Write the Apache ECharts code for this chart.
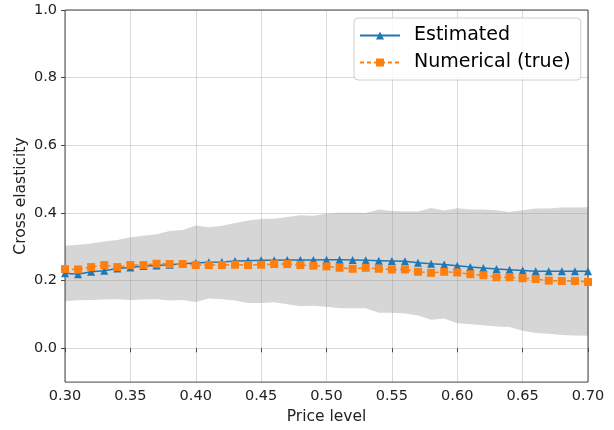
<!DOCTYPE html>
<html>
<head>
<meta charset="utf-8">
<script src="https://cdn.jsdelivr.net/npm/echarts@6/dist/echarts.min.js"></script>
<style>html,body{margin:0;padding:0;background:#fff}#c{width:614px;height:430px}</style>
</head>
<body>
<div id="c"></div>
<script>
var priceLevels = [0.30,0.31,0.32,0.33,0.34,0.35,0.36,0.37,0.38,0.39,0.40,0.41,0.42,0.43,0.44,0.45,0.46,0.47,0.48,0.49,0.50,0.51,0.52,0.53,0.54,0.55,0.56,0.57,0.58,0.59,0.60,0.61,0.62,0.63,0.64,0.65,0.66,0.67,0.68,0.69,0.70];
var estimated = [0.222,0.219,0.226,0.229,0.236,0.239,0.243,0.245,0.247,0.250,0.252,0.254,0.255,0.258,0.259,0.260,0.260,0.261,0.261,0.261,0.262,0.262,0.261,0.260,0.259,0.258,0.257,0.253,0.250,0.248,0.244,0.240,0.237,0.234,0.232,0.230,0.228,0.228,0.228,0.228,0.228];
var numerical = [0.234,0.233,0.240,0.246,0.240,0.246,0.246,0.250,0.249,0.249,0.246,0.246,0.246,0.247,0.246,0.247,0.249,0.249,0.246,0.244,0.242,0.238,0.235,0.238,0.235,0.233,0.233,0.226,0.223,0.226,0.224,0.219,0.216,0.210,0.210,0.207,0.205,0.200,0.199,0.199,0.196];
var bandUpper = [0.303,0.306,0.310,0.316,0.320,0.328,0.333,0.337,0.347,0.350,0.363,0.358,0.362,0.370,0.378,0.382,0.383,0.388,0.393,0.392,0.398,0.401,0.401,0.400,0.410,0.406,0.404,0.404,0.415,0.407,0.414,0.410,0.410,0.408,0.403,0.408,0.413,0.413,0.416,0.416,0.417];
var bandLower = [0.139,0.142,0.143,0.144,0.145,0.143,0.144,0.145,0.141,0.143,0.137,0.147,0.145,0.141,0.134,0.134,0.136,0.130,0.124,0.126,0.123,0.118,0.118,0.118,0.105,0.105,0.103,0.097,0.084,0.088,0.074,0.071,0.068,0.064,0.063,0.052,0.045,0.043,0.039,0.038,0.037];
var xTicks = [0.30,0.35,0.40,0.45,0.50,0.55,0.60,0.65,0.70];
var yTicks = [0.0,0.2,0.4,0.6,0.8,1.0];

function pairs(ys){ return priceLevels.map(function(x,i){ return [x, ys[i]]; }); }
var bandData = priceLevels.map(function(x,i){ return [x, bandLower[i], bandUpper[i]]; });

var font = 'DejaVu Sans';
var chart = echarts.init(document.getElementById('c'));
chart.setOption({
  animation: false,
  backgroundColor: '#fff',
  grid: {left: 65, right: 26, top: 10, bottom: 46, show: true, borderColor: '#444', borderWidth: 1, backgroundColor: 'transparent', z: 4},
  legend: {
    data: ['Estimated', 'Numerical (true)'],
    orient: 'vertical', left: 354, top: 18,
    backgroundColor: 'rgba(255,255,255,0.85)', borderColor: '#d0d0d0', borderWidth: 1, borderRadius: 4,
    padding: [8, 10, 8, 5], itemGap: 8, itemWidth: 40, itemHeight: 10,
    textStyle: {fontFamily: font, fontSize: 19, color: '#000', padding: [0, 0, 0, 9]}
  },
  xAxis: {
    type: 'value', min: 0.3, max: 0.7, z: 3,
    name: 'Price level', nameLocation: 'middle', nameGap: 26,
    nameTextStyle: {fontFamily: font, fontSize: 15.5, color: '#222'},
    axisLine: {show: false},
    axisTick: {show: true, length: 4, lineStyle: {color: '#444'}, customValues: xTicks},
    axisLabel: {fontFamily: font, fontSize: 14.5, color: '#222', margin: 7, customValues: xTicks,
      formatter: function(v){ return v.toFixed(2); }},
    splitLine: {show: true, lineStyle: {color: 'rgba(150,150,150,0.35)', width: 1}}
  },
  yAxis: {
    type: 'value', min: -0.1, max: 1.0, z: 3,
    name: 'Cross elasticity', nameLocation: 'middle', nameGap: 36, nameRotate: 90, nameMoveOverlap: false,
    nameTextStyle: {fontFamily: font, fontSize: 15.5, color: '#222'},
    axisLine: {show: false},
    axisTick: {show: true, length: 4, lineStyle: {color: '#444'}, customValues: yTicks},
    axisLabel: {fontFamily: font, fontSize: 14.5, color: '#222', margin: 8, customValues: yTicks,
      formatter: function(v){ return v.toFixed(1); }},
    splitLine: {show: true, lineStyle: {color: 'rgba(150,150,150,0.35)', width: 1}}
  },
  series: [
    {name: 'band', type: 'custom', data: bandData, silent: true, z: 1,
      encode: {x: 0, y: [1, 2]},
      renderItem: function(params, api){
        if (params.dataIndex !== 0) return null;
        var pts = [];
        for (var i = 0; i < priceLevels.length; i++) pts.push(api.coord([priceLevels[i], bandUpper[i]]));
        for (var j = priceLevels.length - 1; j >= 0; j--) pts.push(api.coord([priceLevels[j], bandLower[j]]));
        return {type: 'polygon', shape: {points: pts}, style: {fill: '#d6d6d6'}};
      }
    },
    {name: 'Estimated', type: 'line', data: pairs(estimated), symbol: 'triangle', symbolSize: 8,
      itemStyle: {color: '#1f77b4'}, lineStyle: {color: '#1f77b4', width: 1.5}, z: 5},
    {name: 'Numerical (true)', type: 'line', data: pairs(numerical), symbol: 'rect', symbolSize: 8,
      itemStyle: {color: '#ff7f0e'}, lineStyle: {color: '#ff7f0e', width: 1.5, type: [4, 3]}, z: 6}
  ]
});
</script>
</body>
</html>
